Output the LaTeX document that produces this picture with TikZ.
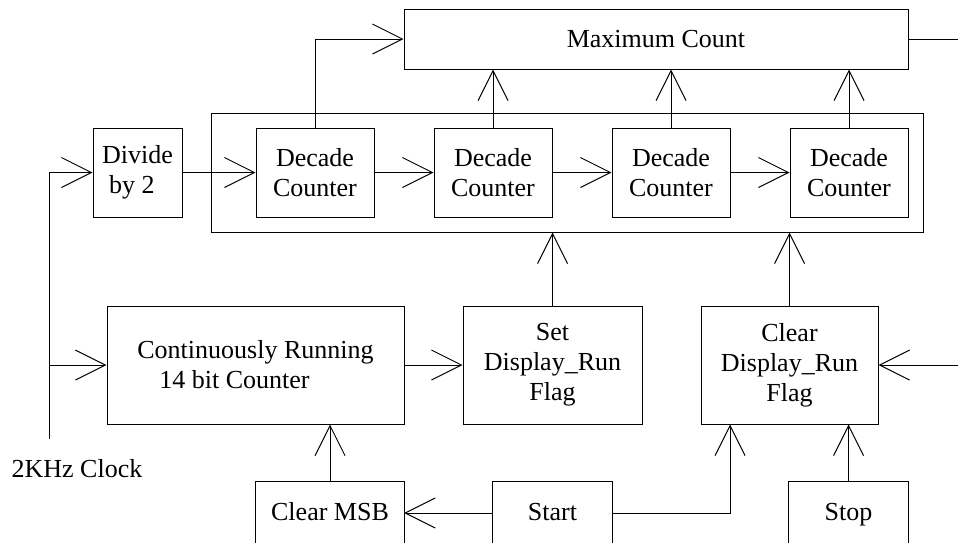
\documentclass[tikz,border=0pt]{standalone}
\usepackage{fontspec}
\setmainfont{Liberation Serif}
\usetikzlibrary{arrows.meta}
\begin{document}
\begin{tikzpicture}[x=1pt,y=-1pt,
  every node/.style={font=\fontsize{26}{30}\selectfont},
  box/.style={draw, line width=1pt, inner sep=0pt, align=center},
  openbox/.style={inner sep=0pt, text height=15pt, text depth=0pt},
  conn/.style={line width=1pt, -{Straight Barb[length=30pt,width=30pt,line width=1pt]}},
  wire/.style={line width=1pt}]
\clip (0,0) rectangle (958,542);
\fill[white] (0,0) rectangle (958,542);
% outer container
\node[box, minimum width=712, minimum height=119] (outer) at (567,172.5) {};
% top row
\node[box, minimum width=504, minimum height=60] (max) at (656,39) {Maximum Count};
\node[box, minimum width=89, minimum height=89, align=left] (div) at (137.5,172.5) {Divide\\\hspace{7pt}by 2};
\node[box, minimum width=118, minimum height=89] (dc1) at (315,172.5) {Decade\\Counter};
\node[box, minimum width=118, minimum height=89] (dc2) at (493,172.5) {Decade\\Counter};
\node[box, minimum width=118, minimum height=89] (dc3) at (671,172.5) {Decade\\Counter};
\node[box, minimum width=118, minimum height=89] (dc4) at (849,172.5) {Decade\\Counter};
% middle row
\node[box, minimum width=297, minimum height=118, align=left] (cont) at (255.5,365) {Continuously Running\\\hspace{22pt}14 bit Counter};
\node[box, minimum width=179, minimum height=118] (set) at (552.5,365) {Set\\Display\_Run\\Flag};
\node[box, minimum width=177, minimum height=118] (clear) at (789.5,365) {Clear\\Display\_Run\\Flag};
% bottom row (boxes run past the lower edge)
\node[openbox, minimum width=148, minimum height=62] (clrmsb) at (330,513) {Clear MSB};
\node[openbox, minimum width=119, minimum height=62] (start) at (552.5,513) {Start};
\node[openbox, minimum width=119, minimum height=62] (stop) at (848.5,513) {Stop};
\foreach \n in {clrmsb,start,stop}
  \draw[wire] (\n.south west) -- (\n.north west) -- (\n.north east) -- (\n.south east);
% clock
\node[inner sep=0pt, text height=17.8pt, text depth=0pt] (clklbl) at (77,469) {2KHz Clock};
\coordinate (clk) at (49,439);
\coordinate (mout) at (958,39);
\coordinate (cin) at (958,365);
% connectors
\draw[conn] (clk) |- (div.west);
\draw[conn] (clk |- cont.west) -- (cont.west);
\draw[conn] (div.east) -- (dc1.west);
\draw[conn] (dc1.east) -- (dc2.west);
\draw[conn] (dc2.east) -- (dc3.west);
\draw[conn] (dc3.east) -- (dc4.west);
\draw[conn] (dc1.north) |- (max.west);
\draw[conn] (dc2.north) -- (dc2.north |- max.south);
\draw[conn] (dc3.north) -- (dc3.north |- max.south);
\draw[conn] (dc4.north) -- (dc4.north |- max.south);
\draw[wire] (max.east) -- (mout);
\draw[conn] (cont.east) -- (set.west);
\draw[conn] (set.north) -- (set.north |- outer.south);
\draw[conn] (clear.north) -- (clear.north |- outer.south);
\draw[conn] (cin) -- (clear.east);
\draw[conn] (clrmsb.north) -- (clrmsb.north |- cont.south);
\draw[conn] (start.west) -- (clrmsb.east |- start.west);
\draw[conn] (start.east) -| ([xshift=-59.5pt]clear.south);
\draw[conn] (stop.north) -- (stop.north |- clear.south);
\end{tikzpicture}
\end{document}
